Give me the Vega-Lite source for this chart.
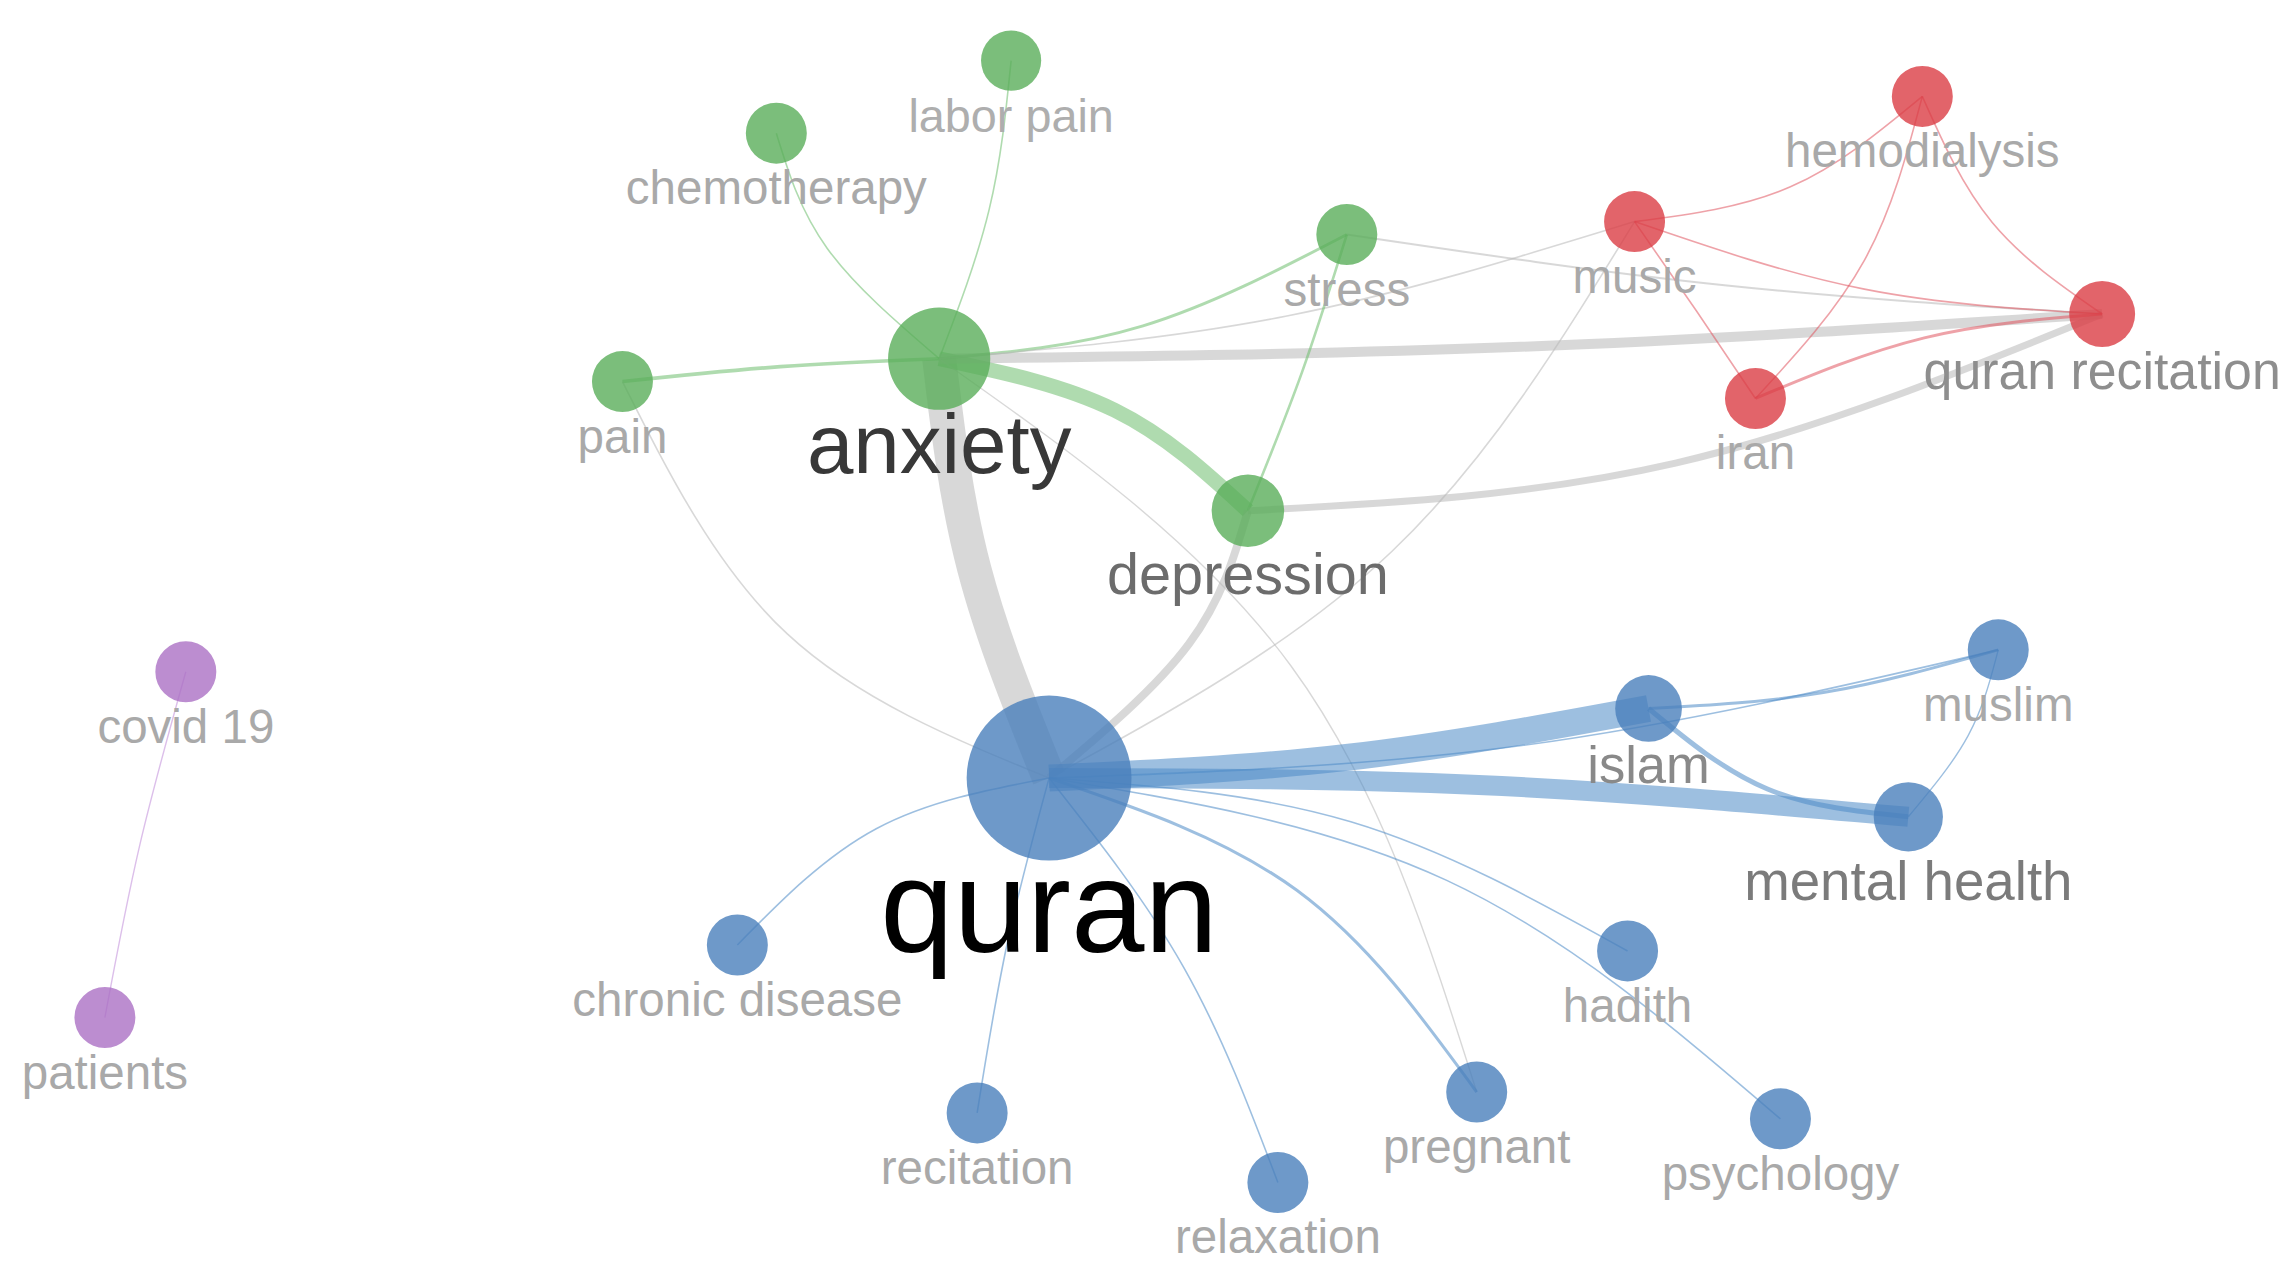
{
  "$schema": "https://vega.github.io/schema/vega-lite/v6.json",
  "width": 2281,
  "height": 1263,
  "autosize": {"type": "fit", "contains": "padding"},
  "padding": 0,
  "background": "white",
  "config": {"view": {"stroke": null}, "legend": {"disable": true}, "font": "Liberation Sans"},
  "datasets": {
    "nodes": [
      {"id": "quran", "x": 1050, "y": 783, "cluster": "blue", "w": 100},
      {"id": "anxiety", "x": 940, "y": 361, "cluster": "green", "w": 62},
      {"id": "depression", "x": 1249, "y": 514, "cluster": "green", "w": 44},
      {"id": "stress", "x": 1348, "y": 236, "cluster": "green", "w": 37},
      {"id": "pain", "x": 623, "y": 384, "cluster": "green", "w": 37},
      {"id": "chemotherapy", "x": 777, "y": 134, "cluster": "green", "w": 37},
      {"id": "labor pain", "x": 1012, "y": 61, "cluster": "green", "w": 36.5},
      {"id": "music", "x": 1636, "y": 223, "cluster": "red", "w": 37},
      {"id": "hemodialysis", "x": 1924, "y": 97, "cluster": "red", "w": 37},
      {"id": "quran recitation", "x": 2104, "y": 316, "cluster": "red", "w": 40},
      {"id": "iran", "x": 1757, "y": 401, "cluster": "red", "w": 37},
      {"id": "islam", "x": 1650, "y": 713, "cluster": "blue", "w": 40.5},
      {"id": "muslim", "x": 2000, "y": 654, "cluster": "blue", "w": 37},
      {"id": "mental health", "x": 1910, "y": 822, "cluster": "blue", "w": 42},
      {"id": "hadith", "x": 1629, "y": 957, "cluster": "blue", "w": 37},
      {"id": "psychology", "x": 1782, "y": 1126, "cluster": "blue", "w": 37},
      {"id": "pregnant", "x": 1478, "y": 1099, "cluster": "blue", "w": 37},
      {"id": "relaxation", "x": 1279, "y": 1190, "cluster": "blue", "w": 37},
      {"id": "recitation", "x": 978, "y": 1120, "cluster": "blue", "w": 37},
      {"id": "chronic disease", "x": 738, "y": 951, "cluster": "blue", "w": 37},
      {"id": "covid 19", "x": 186, "y": 676, "cluster": "purple", "w": 37},
      {"id": "patients", "x": 105, "y": 1024, "cluster": "purple", "w": 37}
    ],
    "edges": [
      {"edge": "anxiety-quran", "k": 0, "x": 940, "y": 361, "type": "grey", "s": 17},
      {"edge": "anxiety-quran", "k": 1, "x": 975, "y": 572, "type": "grey", "s": 17},
      {"edge": "anxiety-quran", "k": 2, "x": 1050, "y": 783, "type": "grey", "s": 17},
      {"edge": "anxiety-depression", "k": 0, "x": 940, "y": 361, "type": "green", "s": 7.5},
      {"edge": "anxiety-depression", "k": 1, "x": 1116, "y": 413, "type": "green", "s": 7.5},
      {"edge": "anxiety-depression", "k": 2, "x": 1249, "y": 514, "type": "green", "s": 7.5},
      {"edge": "anxiety-pain", "k": 0, "x": 940, "y": 361, "type": "green", "s": 1.8},
      {"edge": "anxiety-pain", "k": 1, "x": 781, "y": 369, "type": "green", "s": 1.8},
      {"edge": "anxiety-pain", "k": 2, "x": 623, "y": 384, "type": "green", "s": 1.8},
      {"edge": "anxiety-chemotherapy", "k": 0, "x": 940, "y": 361, "type": "green", "s": 0.8},
      {"edge": "anxiety-chemotherapy", "k": 1, "x": 828, "y": 250, "type": "green", "s": 0.8},
      {"edge": "anxiety-chemotherapy", "k": 2, "x": 777, "y": 134, "type": "green", "s": 0.8},
      {"edge": "anxiety-labor pain", "k": 0, "x": 940, "y": 361, "type": "green", "s": 0.8},
      {"edge": "anxiety-labor pain", "k": 1, "x": 990, "y": 211, "type": "green", "s": 0.8},
      {"edge": "anxiety-labor pain", "k": 2, "x": 1012, "y": 61, "type": "green", "s": 0.8},
      {"edge": "anxiety-stress", "k": 0, "x": 940, "y": 361, "type": "green", "s": 1.5},
      {"edge": "anxiety-stress", "k": 1, "x": 1144, "y": 328, "type": "green", "s": 1.5},
      {"edge": "anxiety-stress", "k": 2, "x": 1348, "y": 236, "type": "green", "s": 1.5},
      {"edge": "anxiety-quran recitation", "k": 0, "x": 940, "y": 361, "type": "grey", "s": 5},
      {"edge": "anxiety-quran recitation", "k": 1, "x": 1522, "y": 349, "type": "grey", "s": 5},
      {"edge": "anxiety-quran recitation", "k": 2, "x": 2104, "y": 316, "type": "grey", "s": 5},
      {"edge": "anxiety-music", "k": 0, "x": 940, "y": 361, "type": "grey", "s": 0.8},
      {"edge": "anxiety-music", "k": 1, "x": 1288, "y": 318, "type": "grey", "s": 0.8},
      {"edge": "anxiety-music", "k": 2, "x": 1636, "y": 223, "type": "grey", "s": 0.8},
      {"edge": "stress-quran recitation", "k": 0, "x": 1348, "y": 236, "type": "grey", "s": 1},
      {"edge": "stress-quran recitation", "k": 1, "x": 1726, "y": 287, "type": "grey", "s": 1},
      {"edge": "stress-quran recitation", "k": 2, "x": 2104, "y": 316, "type": "grey", "s": 1},
      {"edge": "stress-depression", "k": 0, "x": 1348, "y": 236, "type": "green", "s": 1.3},
      {"edge": "stress-depression", "k": 1, "x": 1303, "y": 375, "type": "green", "s": 1.3},
      {"edge": "stress-depression", "k": 2, "x": 1249, "y": 514, "type": "green", "s": 1.3},
      {"edge": "depression-quran", "k": 0, "x": 1249, "y": 514, "type": "grey", "s": 4},
      {"edge": "depression-quran", "k": 1, "x": 1190, "y": 648, "type": "grey", "s": 4},
      {"edge": "depression-quran", "k": 2, "x": 1050, "y": 783, "type": "grey", "s": 4},
      {"edge": "depression-quran recitation", "k": 0, "x": 1249, "y": 514, "type": "grey", "s": 3.5},
      {"edge": "depression-quran recitation", "k": 1, "x": 1677, "y": 466, "type": "grey", "s": 3.5},
      {"edge": "depression-quran recitation", "k": 2, "x": 2104, "y": 316, "type": "grey", "s": 3.5},
      {"edge": "anxiety-pregnant", "k": 0, "x": 940, "y": 361, "type": "grey", "s": 0.7},
      {"edge": "anxiety-pregnant", "k": 1, "x": 1292, "y": 670, "type": "grey", "s": 0.7},
      {"edge": "anxiety-pregnant", "k": 2, "x": 1478, "y": 1099, "type": "grey", "s": 0.7},
      {"edge": "quran-music", "k": 0, "x": 1050, "y": 783, "type": "grey", "s": 0.8},
      {"edge": "quran-music", "k": 1, "x": 1393, "y": 555, "type": "grey", "s": 0.8},
      {"edge": "quran-music", "k": 2, "x": 1636, "y": 223, "type": "grey", "s": 0.8},
      {"edge": "pain-quran", "k": 0, "x": 623, "y": 384, "type": "grey", "s": 0.8},
      {"edge": "pain-quran", "k": 1, "x": 788, "y": 638, "type": "grey", "s": 0.8},
      {"edge": "pain-quran", "k": 2, "x": 1050, "y": 783, "type": "grey", "s": 0.8},
      {"edge": "quran-chronic disease", "k": 0, "x": 1050, "y": 783, "type": "blue", "s": 0.8},
      {"edge": "quran-chronic disease", "k": 1, "x": 877, "y": 834, "type": "blue", "s": 0.8},
      {"edge": "quran-chronic disease", "k": 2, "x": 738, "y": 951, "type": "blue", "s": 0.8},
      {"edge": "quran-recitation", "k": 0, "x": 1050, "y": 783, "type": "blue", "s": 0.8},
      {"edge": "quran-recitation", "k": 1, "x": 1008, "y": 950, "type": "blue", "s": 0.8},
      {"edge": "quran-recitation", "k": 2, "x": 978, "y": 1120, "type": "blue", "s": 0.8},
      {"edge": "quran-relaxation", "k": 0, "x": 1050, "y": 783, "type": "blue", "s": 0.8},
      {"edge": "quran-relaxation", "k": 1, "x": 1185, "y": 974, "type": "blue", "s": 0.8},
      {"edge": "quran-relaxation", "k": 2, "x": 1279, "y": 1190, "type": "blue", "s": 0.8},
      {"edge": "quran-pregnant", "k": 0, "x": 1050, "y": 783, "type": "blue", "s": 1.5},
      {"edge": "quran-pregnant", "k": 1, "x": 1298, "y": 896, "type": "blue", "s": 1.5},
      {"edge": "quran-pregnant", "k": 2, "x": 1478, "y": 1099, "type": "blue", "s": 1.5},
      {"edge": "quran-hadith", "k": 0, "x": 1050, "y": 783, "type": "blue", "s": 0.8},
      {"edge": "quran-hadith", "k": 1, "x": 1352, "y": 827, "type": "blue", "s": 0.8},
      {"edge": "quran-hadith", "k": 2, "x": 1629, "y": 957, "type": "blue", "s": 0.8},
      {"edge": "quran-psychology", "k": 0, "x": 1050, "y": 783, "type": "blue", "s": 0.8},
      {"edge": "quran-psychology", "k": 1, "x": 1448, "y": 886, "type": "blue", "s": 0.8},
      {"edge": "quran-psychology", "k": 2, "x": 1782, "y": 1126, "type": "blue", "s": 0.8},
      {"edge": "quran-islam", "k": 0, "x": 1050, "y": 783, "type": "blue", "s": 13.5},
      {"edge": "quran-islam", "k": 1, "x": 1350, "y": 762, "type": "blue", "s": 13.5},
      {"edge": "quran-islam", "k": 2, "x": 1650, "y": 713, "type": "blue", "s": 13.5},
      {"edge": "quran-mental health", "k": 0, "x": 1050, "y": 783, "type": "blue", "s": 10},
      {"edge": "quran-mental health", "k": 1, "x": 1480, "y": 790, "type": "blue", "s": 10},
      {"edge": "quran-mental health", "k": 2, "x": 1910, "y": 822, "type": "blue", "s": 10},
      {"edge": "islam-mental health", "k": 0, "x": 1650, "y": 713, "type": "blue", "s": 2.5},
      {"edge": "islam-mental health", "k": 1, "x": 1769, "y": 794, "type": "blue", "s": 2.5},
      {"edge": "islam-mental health", "k": 2, "x": 1910, "y": 822, "type": "blue", "s": 2.5},
      {"edge": "islam-muslim", "k": 0, "x": 1650, "y": 713, "type": "blue", "s": 1.5},
      {"edge": "islam-muslim", "k": 1, "x": 1825, "y": 697, "type": "blue", "s": 1.5},
      {"edge": "islam-muslim", "k": 2, "x": 2000, "y": 654, "type": "blue", "s": 1.5},
      {"edge": "quran-muslim", "k": 0, "x": 1050, "y": 783, "type": "blue", "s": 0.8},
      {"edge": "quran-muslim", "k": 1, "x": 1525, "y": 750, "type": "blue", "s": 0.8},
      {"edge": "quran-muslim", "k": 2, "x": 2000, "y": 654, "type": "blue", "s": 0.8},
      {"edge": "muslim-mental health", "k": 0, "x": 2000, "y": 654, "type": "blue", "s": 0.7},
      {"edge": "muslim-mental health", "k": 1, "x": 1970, "y": 740, "type": "blue", "s": 0.7},
      {"edge": "muslim-mental health", "k": 2, "x": 1910, "y": 822, "type": "blue", "s": 0.7},
      {"edge": "music-hemodialysis", "k": 0, "x": 1636, "y": 223, "type": "red", "s": 0.8},
      {"edge": "music-hemodialysis", "k": 1, "x": 1792, "y": 188, "type": "red", "s": 0.8},
      {"edge": "music-hemodialysis", "k": 2, "x": 1924, "y": 97, "type": "red", "s": 0.8},
      {"edge": "music-quran recitation", "k": 0, "x": 1636, "y": 223, "type": "red", "s": 0.8},
      {"edge": "music-quran recitation", "k": 1, "x": 1866, "y": 291, "type": "red", "s": 0.8},
      {"edge": "music-quran recitation", "k": 2, "x": 2104, "y": 316, "type": "red", "s": 0.8},
      {"edge": "music-iran", "k": 0, "x": 1636, "y": 223, "type": "red", "s": 0.8},
      {"edge": "music-iran", "k": 1, "x": 1698, "y": 313, "type": "red", "s": 0.8},
      {"edge": "music-iran", "k": 2, "x": 1757, "y": 401, "type": "red", "s": 0.8},
      {"edge": "hemodialysis-iran", "k": 0, "x": 1924, "y": 97, "type": "red", "s": 0.8},
      {"edge": "hemodialysis-iran", "k": 1, "x": 1866, "y": 262, "type": "red", "s": 0.8},
      {"edge": "hemodialysis-iran", "k": 2, "x": 1757, "y": 401, "type": "red", "s": 0.8},
      {"edge": "hemodialysis-quran recitation", "k": 0, "x": 1924, "y": 97, "type": "red", "s": 0.8},
      {"edge": "hemodialysis-quran recitation", "k": 1, "x": 1994, "y": 224, "type": "red", "s": 0.8},
      {"edge": "hemodialysis-quran recitation", "k": 2, "x": 2104, "y": 316, "type": "red", "s": 0.8},
      {"edge": "iran-quran recitation", "k": 0, "x": 1757, "y": 401, "type": "red", "s": 1.5},
      {"edge": "iran-quran recitation", "k": 1, "x": 1926, "y": 340, "type": "red", "s": 1.5},
      {"edge": "iran-quran recitation", "k": 2, "x": 2104, "y": 316, "type": "red", "s": 1.5},
      {"edge": "covid 19-patients", "k": 0, "x": 186, "y": 676, "type": "purple", "s": 0.7},
      {"edge": "covid 19-patients", "k": 1, "x": 140, "y": 850, "type": "purple", "s": 0.7},
      {"edge": "covid 19-patients", "k": 2, "x": 105, "y": 1024, "type": "purple", "s": 0.7}
    ]
  },
  "layer": [
    {
      "data": {"name": "edges"},
      "mark": {"type": "line", "interpolate": "natural", "opacity": 0.55, "strokeCap": "butt"},
      "encoding": {
        "x": {"field": "x", "type": "quantitative", "scale": {"domain": [0, 2281], "nice": false, "zero": false}, "axis": null},
        "y": {"field": "y", "type": "quantitative", "scale": {"domain": [0, 1263], "nice": false, "zero": false, "reverse": true}, "axis": null},
        "detail": {"field": "edge"},
        "order": {"field": "k", "type": "quantitative"},
        "color": {"field": "type", "type": "nominal", "scale": {"domain": ["grey", "green", "blue", "red", "purple"], "range": ["#b8b8b8", "#6ebe6e", "#4d8bc7", "#e05560", "#c08ad8"]}},
        "size": {"field": "s", "type": "quantitative", "scale": {"domain": [0, 20], "range": [0, 40]}}
      }
    },
    {
      "data": {"name": "nodes"},
      "mark": {"type": "circle", "opacity": 0.8},
      "encoding": {
        "x": {"field": "x", "type": "quantitative", "scale": {"domain": [0, 2281], "nice": false, "zero": false}, "axis": null},
        "y": {"field": "y", "type": "quantitative", "scale": {"domain": [0, 1263], "nice": false, "zero": false, "reverse": true}, "axis": null},
        "color": {"field": "cluster", "type": "nominal", "scale": {"domain": ["blue", "green", "red", "purple"], "range": ["#4a80bc", "#5aae5a", "#db3d45", "#ab70c4"]}},
        "size": {"field": "w", "type": "quantitative", "scale": {"type": "pow", "exponent": 2, "domain": [0, 100], "range": [0, 27172]}}
      }
    },
    {
      "data": {"name": "nodes"},
      "encoding": {
        "x": {"field": "x", "type": "quantitative", "scale": {"domain": [0, 2281], "nice": false, "zero": false}, "axis": null},
        "y": {"field": "y", "type": "quantitative", "scale": {"domain": [0, 1263], "nice": false, "zero": false, "reverse": true}, "axis": null},
        "text": {"field": "id"},
        "size": {"field": "w", "type": "quantitative", "scale": {"domain": [37, 62, 100], "range": [47.5, 83.5, 132]}},
        "color": {"field": "w", "type": "quantitative", "scale": {"domain": [37, 40, 42, 44, 62, 100], "range": ["#a9a9a9", "#8e8e8e", "#7b7b7b", "#6c6c6c", "#383838", "#000000"]}}
      },
      "layer": [
        {"transform": [{"filter": "datum.w < 39"}], "mark": {"type": "text", "align": "center", "baseline": "alphabetic", "dy": 71, "font": "Liberation Sans"}},
        {"transform": [{"filter": "datum.w >= 39 && datum.w < 41.5"}], "mark": {"type": "text", "align": "center", "baseline": "alphabetic", "dy": 75, "font": "Liberation Sans"}},
        {"transform": [{"filter": "datum.w >= 41.5 && datum.w < 50"}], "mark": {"type": "text", "align": "center", "baseline": "alphabetic", "dy": 83, "font": "Liberation Sans"}},
        {"transform": [{"filter": "datum.w >= 50 && datum.w < 80"}], "mark": {"type": "text", "align": "center", "baseline": "alphabetic", "dy": 114, "font": "Liberation Sans"}},
        {"transform": [{"filter": "datum.w >= 80"}], "mark": {"type": "text", "align": "center", "baseline": "alphabetic", "dy": 174, "font": "Liberation Sans"}}
      ]
    }
  ],
  "resolve": {"scale": {"color": "independent", "size": "independent"}}
}
